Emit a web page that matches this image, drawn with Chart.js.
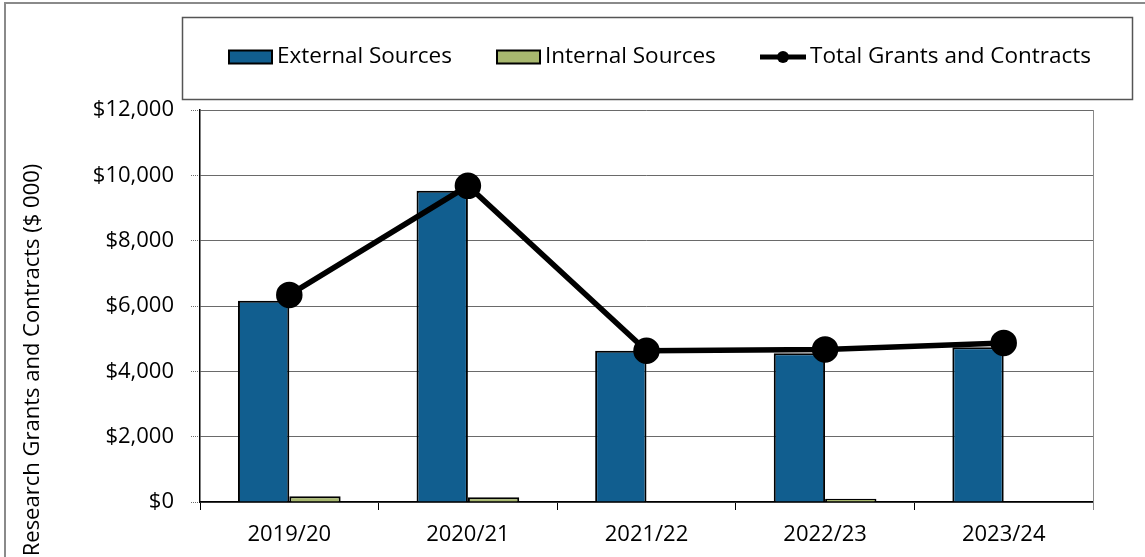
<!DOCTYPE html>
<html>
<head>
<meta charset="utf-8">
<script src="https://cdn.jsdelivr.net/npm/chart.js@4.4.1/dist/chart.umd.min.js"></script>
<style>
html,body{margin:0;padding:0;background:#fff;}
#wrap{width:1145px;height:557px;position:relative;}
</style>
</head>
<body>
<div id="wrap"><canvas id="c" width="1145" height="557"></canvas></div>
<script>
const categories = ["2019/20", "2020/21", "2021/22", "2022/23", "2023/24"];
const externalSources = [6160, 9530, 4630, 4550, 4740];
const internalSources = [175, 145, 0, 100, 0];
const totalGrants = [6340, 9680, 4630, 4670, 4870];
const yTicks = [0, 2000, 4000, 6000, 8000, 10000, 12000];
const yAxisTitle = "Research Grants and Contracts ($ 000)";

const FONT = "'Open Sans', 'Liberation Sans', Arial, sans-serif";

const framePlugin = {
  id: 'frame',
  beforeDraw(chart) {
    const ctx = chart.ctx;
    ctx.save();
    ctx.fillStyle = '#fff';
    ctx.fillRect(0, 0, chart.width, chart.height);
    ctx.strokeStyle = '#8a8a8a';
    ctx.lineWidth = 2;
    ctx.beginPath();
    ctx.moveTo(5, chart.height + 2);
    ctx.lineTo(5, 3);
    ctx.lineTo(chart.width + 2, 3);
    ctx.stroke();
    ctx.restore();
  },
  afterDraw(chart) {
    const ctx = chart.ctx;
    const a = chart.chartArea;
    ctx.save();
    ctx.strokeStyle = '#8a8a8a';
    ctx.lineWidth = 1;
    ctx.beginPath();
    ctx.moveTo(Math.round(a.right) + 0.5, a.top);
    ctx.lineTo(Math.round(a.right) + 0.5, a.bottom + 8);
    ctx.stroke();
    ctx.fillStyle = '#000';
    ctx.font = "22px " + FONT;
    ctx.textAlign = 'center';
    ctx.textBaseline = 'middle';
    ctx.translate(33, 360);
    ctx.rotate(-Math.PI / 2);
    ctx.fillText(yAxisTitle, 0, 0);
    ctx.restore();

    ctx.save();
    ctx.strokeStyle = '#555';
    ctx.lineWidth = 1.5;
    ctx.strokeRect(182.5, 17.5, 950, 82);
    ctx.font = "22.5px " + FONT;
    ctx.textBaseline = 'middle';
    ctx.textAlign = 'left';
    const ds = chart.data.datasets;
    const cy = 57;
    const items = [
      {x: 229, d: ds[0]},
      {x: 497, d: ds[1]},
      {x: 760, d: ds[2]}
    ];
    items.forEach(it => {
      const d = it.d;
      if (d.type === 'line') {
        ctx.strokeStyle = d.borderColor;
        ctx.lineWidth = 5;
        ctx.beginPath();
        ctx.moveTo(it.x, cy);
        ctx.lineTo(it.x + 46, cy);
        ctx.stroke();
        ctx.fillStyle = d.pointBackgroundColor;
        ctx.beginPath();
        ctx.arc(it.x + 23, cy, 6, 0, Math.PI * 2);
        ctx.fill();
        ctx.fillStyle = '#000';
        ctx.fillText(d.label, it.x + 50, cy);
      } else {
        ctx.fillStyle = d.backgroundColor;
        ctx.fillRect(it.x, cy - 6.5, 43, 13);
        ctx.strokeStyle = '#000';
        ctx.lineWidth = 2;
        ctx.strokeRect(it.x, cy - 6.5, 43, 13);
        ctx.fillStyle = '#000';
        ctx.fillText(d.label, it.x + 48, cy);
      }
    });
    ctx.restore();
  }
};

new Chart(document.getElementById('c'), {
  data: {
    labels: categories,
    datasets: [
      {
        type: 'bar',
        label: 'External Sources',
        data: externalSources,
        backgroundColor: '#115E8F',
        borderColor: '#000',
        borderWidth: 2,
        borderSkipped: 'bottom',
        barPercentage: 1,
        categoryPercentage: 0.575,
        order: 2
      },
      {
        type: 'bar',
        label: 'Internal Sources',
        data: internalSources,
        backgroundColor: '#A8B86F',
        borderColor: '#000',
        borderWidth: 2,
        borderSkipped: 'bottom',
        barPercentage: 1,
        categoryPercentage: 0.575,
        order: 2
      },
      {
        type: 'line',
        label: 'Total Grants and Contracts',
        data: totalGrants,
        borderColor: '#000',
        borderWidth: 5.5,
        pointBackgroundColor: '#000',
        pointBorderColor: '#000',
        pointRadius: 10.5,
        pointHoverRadius: 10.5,
        tension: 0,
        order: 0
      }
    ]
  },
  options: {
    responsive: false,
    animation: false,
    events: [],
    layout: { padding: { left: 0, top: 110, right: 52, bottom: 0 } },
    plugins: {
      legend: { display: false },
      tooltip: { enabled: false },
      title: { display: false }
    },
    scales: {
      x: {
        offset: true,
        grid: {
          offset: true,
          drawOnChartArea: false,
          drawTicks: true,
          tickLength: 8,
          color: '#000',
          lineWidth: 1
        },
        border: { display: true, color: '#000', width: 1.5 },
        ticks: {
          color: '#000',
          font: { family: FONT, size: 22 },
          padding: 12,
          maxRotation: 0
        },
        afterFit(s) { s.height = 55; }
      },
      y: {
        min: 0,
        max: 12000,
        afterBuildTicks(s) { s.ticks = yTicks.map(v => ({ value: v })); },
        grid: {
          color: '#6a6a6a',
          lineWidth: 1,
          borderDash: [1, 1],
          tickBorderDash: [1, 1],
          tickLength: 9,
          drawTicks: true
        },
        border: { display: true, color: '#000', width: 1.5 },
        ticks: {
          color: '#000',
          font: { family: FONT, size: 22 },
          padding: 17,
          callback: v => '$' + Number(v).toLocaleString('en-US')
        },
        afterFit(s) { s.width = 200; }
      }
    }
  },
  plugins: [framePlugin]
});
</script>
</body>
</html>
